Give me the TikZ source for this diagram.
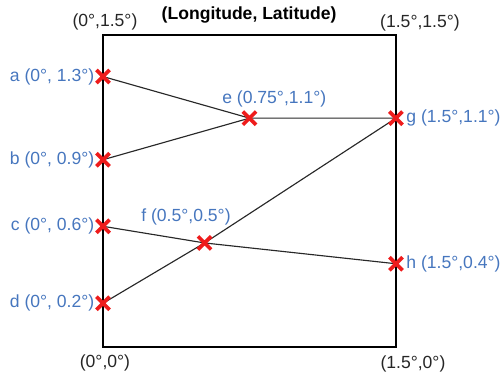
\documentclass[tikz,border=0pt]{standalone}
\usepackage{fontspec}
\setmainfont{Liberation Sans}
\usetikzlibrary{shapes.misc, positioning}
\definecolor{ptBlue}{RGB}{70,118,190}
\definecolor{ptRed}{RGB}{238,28,28}
\definecolor{lineGrey}{RGB}{40,40,40}

\begin{document}
\begin{tikzpicture}[x=3.906cm, y=4.16cm, font=\fontsize{10}{12}\selectfont,
    xmark/.style={cross out, draw=ptRed, line width=2.1pt, minimum size=0.19cm, inner sep=0pt},
    ptlabel/.style={text=ptBlue, inner sep=1pt},
    corner/.style={text=black!85, inner sep=1pt}]
  \useasboundingbox (-0.5274,-0.1442) rectangle (2.043,1.668);

  % Frame
  \draw[line width=1.1pt] (0,0) rectangle (1.5,1.5);
  \node[font=\bfseries\fontsize{10}{12}\selectfont] (title) at (0.748,1.596) {(Longitude, Latitude)};
  \node[corner] (tl) at (0.01,1.5625) {(0°,1.5°)};
  \node[corner] (tr) at (1.623,1.558) {(1.5°,1.5°)};
  \node[corner] (bl) at (0.01,-0.077) {(0°,0°)};
  \node[corner] (br) at (1.587,-0.082) {(1.5°,0°)};

  % Points
  \coordinate (a) at (0,1.3);
  \coordinate (b) at (0,0.9);
  \coordinate (c) at (0,0.58);
  \coordinate (d) at (0,0.21);
  \coordinate (e) at (0.75,1.1);
  \coordinate (f) at (0.52,0.5);
  \coordinate (g) at (1.5,1.1);
  \coordinate (h) at (1.5,0.4);

  % Connecting lines
  \begin{scope}[lineGrey, line width=0.65pt]
    \draw (a) -- (e) -- (g);
    \draw (b) -- (e);
    \draw (c) -- (f) -- (h);
    \draw (d) -- (f) -- (g);
  \end{scope}

  % Markers and their labels
  \foreach \p in {a,...,h} \node[xmark] (x\p) at (\p) {};
  \node[ptlabel, left=0pt of xa] (la) {a (0°, 1.3°)};
  \node[ptlabel, left=0pt of xb] (lb) {b (0°, 0.9°)};
  \node[ptlabel, left=0pt of xc] (lc) {c (0°, 0.6°)};
  \node[ptlabel, left=0pt of xd] (ld) {d (0°, 0.2°)};
  \node[ptlabel, anchor=west] (le) at (0.6,1.19) {e (0.75°,1.1°)};
  \node[ptlabel] (lf) at (0.425,0.625) {f (0.5°,0.5°)};
  \node[ptlabel, right=1pt of xg] (lg) {g (1.5°,1.1°)};
  \node[ptlabel, right=1pt of xh] (lh) {h (1.5°,0.4°)};
\end{tikzpicture}
\end{document}
